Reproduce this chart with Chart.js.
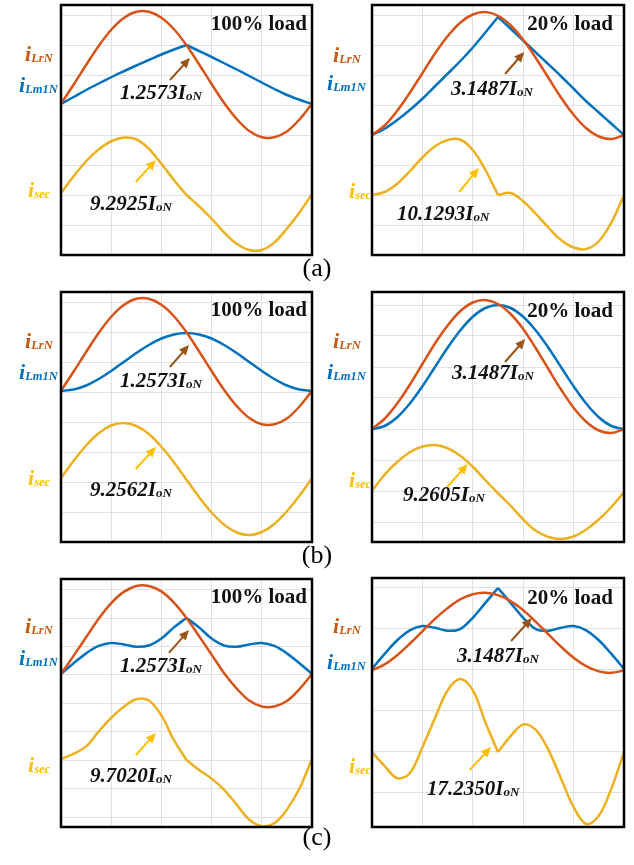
<!DOCTYPE html>
<html>
<head>
<meta charset="utf-8">
<script src="https://cdn.jsdelivr.net/npm/chart.js@4.4.0/dist/chart.umd.min.js"></script>
<style>
  body { margin: 0; background: #fff; }
  #page { position: relative; width: 634px; height: 865px; overflow: hidden; font-family: "Liberation Serif", "Times New Roman", serif; }
  canvas { position: absolute; }
  .txt { position: absolute; white-space: nowrap; line-height: 1; font-weight: bold; font-style: italic; }
  .lbl { font-size: 22px; }
  .lbl span { font-size: 12.5px; position: relative; top: 1px; }
  .val { font-size: 21px; color: #111; }
  .val span { font-size: 13px; position: relative; top: 1px; }
  .load { font-size: 21px; font-style: normal; color: #111; }
  .cap { position: absolute; left: 0; width: 634px; text-align: center; font-size: 26px; line-height: 1; }
</style>
</head>
<body>
<div id="page"></div>
<script>
// time axis, in grid columns
var t = [0, 0.25, 0.5, 0.75, 1, 1.25, 1.5, 1.75, 2, 2.25, 2.5, 2.75, 3, 3.25, 3.5, 3.75, 4, 4.25, 4.5, 4.75, 5];
var xGrid = [0, 1, 2, 3, 4, 5];
var yGridA = [0, 12, 24, 36, 48, 60, 72, 84, 96];
var yGridBR = [8, 20.4, 32.8, 45.2, 57.6, 70, 82.4, 94.8];
var yGridCL = [4, 15.5, 27, 38.4, 49.9, 61.3, 72.8, 84.2, 95.7];
var yGridCR = [13.7, 30.2, 46.7, 63.2, 79.7, 96.2];

// (a) 100% load
var aL_iLrN  = [60.5, 68.1, 76.0, 83.6, 90.1, 94.8, 97.3, 97.3, 94.9, 90.3, 83.9, 76.3, 68.4, 60.8, 54.4, 49.6, 47.1, 47.1, 49.4, 54.2, 60.5];
var aL_iLm1N = [60.4, 63.2, 66.0, 68.6, 71.1, 73.5, 75.8, 78.0, 80.2, 82.2, 84.0, 81.6, 79.2, 76.7, 74.2, 71.6, 69.0, 66.4, 64.0, 62.1, 60.4];
var aL_isec  = [24.8, 31.5, 37.5, 42.2, 45.5, 47.0, 46.3, 42.5, 36.5, 30.0, 24.0, 19.5, 14.5, 9.0, 4.5, 2.0, 2.0, 5.0, 10.5, 17.0, 24.4];
// (a) 20% load
var aR_iLrN  = [48.0, 51.8, 57.7, 64.9, 72.7, 80.6, 87.5, 92.9, 96.2, 97.2, 95.7, 91.9, 86.1, 78.8, 70.9, 63.0, 56.1, 50.7, 47.4, 46.4, 48.0];
var aR_iLm1N = [48.0, 50.5, 54.0, 58.0, 62.5, 67.5, 72.5, 77.5, 83.0, 89.0, 95.2, 90.5, 85.8, 81.0, 76.3, 71.5, 66.5, 61.5, 57.0, 52.5, 48.0];
var aR_isec  = [24.0, 25.2, 28.5, 33.5, 39.0, 43.5, 46.0, 46.2, 42.0, 34.0, 24.0, 24.8, 21.5, 16.5, 11.0, 6.0, 3.0, 2.4, 5.5, 13.0, 24.0];
// (b) 100% load
var bL_iLrN  = [60.5, 68.1, 76.0, 83.6, 90.1, 94.8, 97.3, 97.3, 94.9, 90.3, 83.9, 76.3, 68.4, 60.8, 54.4, 49.6, 47.1, 47.1, 49.4, 54.2, 60.5];
var bL_iLm1N = [60.4, 61.0, 62.6, 65.2, 68.4, 72.0, 75.6, 78.8, 81.4, 83.0, 83.6, 83.0, 81.4, 78.8, 75.6, 72.0, 68.4, 65.2, 62.6, 61.0, 60.4];
var bL_isec  = [25.5, 32.4, 38.6, 43.5, 46.6, 47.6, 46.4, 43.2, 38.1, 31.9, 24.9, 18.0, 11.8, 6.9, 3.8, 2.8, 4.0, 7.2, 12.3, 18.5, 25.5];
// (b) 20% load
var bR_iLrN  = [45.2, 49.3, 55.4, 62.9, 71.2, 79.4, 86.6, 92.3, 95.8, 96.8, 95.2, 91.2, 85.2, 77.5, 69.2, 61.0, 53.7, 48.1, 44.6, 43.6, 45.2];
var bR_iLm1N = [45.2, 46.4, 49.9, 55.4, 62.3, 70.0, 77.7, 84.6, 90.1, 93.6, 94.8, 93.6, 90.1, 84.6, 77.7, 70.0, 62.3, 55.4, 49.9, 46.4, 45.2];
var bR_isec  = [20.5, 26.9, 32.0, 35.9, 38.2, 38.8, 37.5, 34.5, 30.1, 24.7, 19.5, 14.5, 9.0, 4.5, 2.0, 1.2, 2.2, 5.0, 9.0, 14.0, 20.0];
// (c) 100% load
var cL_iLrN  = [61.7, 69.0, 76.5, 84.0, 90.3, 94.8, 97.2, 97.2, 95.0, 90.5, 84.3, 77.0, 69.5, 62.0, 55.8, 51.0, 48.6, 48.6, 50.8, 55.6, 61.7];
var cL_iLm1N = [61.7, 66.0, 70.0, 73.0, 74.2, 73.6, 72.7, 73.2, 76.0, 80.5, 84.3, 80.5, 76.0, 73.2, 72.7, 73.6, 74.2, 73.0, 70.0, 66.0, 61.7];
var cL_isec  = [27.4, 29.5, 32.5, 38.5, 44.0, 48.5, 51.5, 51.0, 45.0, 35.0, 27.0, 23.0, 19.5, 15.0, 9.0, 3.0, 0.3, 1.5, 7.0, 15.5, 27.4];
// (c) 20% load
var cR_iLrN  = [62.9, 65.3, 69.0, 73.6, 78.6, 83.6, 87.9, 91.4, 93.5, 94.1, 93.1, 90.7, 87.1, 82.4, 77.4, 72.4, 68.0, 64.6, 62.5, 61.9, 62.9];
var cR_iLm1N = [63.5, 69.5, 75.0, 79.0, 80.7, 80.0, 78.8, 79.5, 84.0, 90.0, 96.0, 90.0, 84.0, 79.5, 78.8, 80.0, 80.7, 79.0, 75.0, 69.5, 63.5];
var cR_isec  = [30.1, 24.5, 19.6, 21.6, 32.0, 43.8, 54.8, 59.4, 55.0, 42.0, 30.1, 36.5, 41.2, 39.0, 31.0, 19.5, 8.0, 1.2, 4.5, 15.5, 30.1];

var loads = ['100% load', '20% load'];
var peakLabels = ['1.2573', '3.1487', '1.2573', '3.1487', '1.2573', '3.1487'];
var secLabels = ['9.2925', '10.1293', '9.2562', '9.2605', '9.7020', '17.2350'];

var C_LR = '#D95319', C_LM = '#0072BD', C_SEC = '#EDB120';
var PAD = 6;

var panels = [
  { box: [61, 5, 251, 250], grid: yGridA, lr: aL_iLrN, lm: aL_iLm1N, sec: aL_isec, split: true,
    arrows: [[2.17, 70, 2.57, 78.8], [1.49, 29.2, 1.89, 38]], lblX: [25, 19, 28], lblY: [56, 87, 192],
    loadY: 26, pk: [59, 95], sc: [29, 206] },
  { box: [372, 5, 252, 250], grid: yGridA, lr: aR_iLrN, lm: aR_iLm1N, sec: aR_isec, split: true,
    arrows: [[2.64, 72.4, 3.02, 81.2], [1.73, 25.2, 2.12, 34.8]], lblX: [333, 327, 349], lblY: [57, 85, 193],
    loadY: 26, pk: [79, 91], sc: [25, 216] },
  { box: [61, 292, 251, 250], grid: yGridA, lr: bL_iLrN, lm: bL_iLm1N, sec: bL_isec, split: false,
    arrows: [[2.17, 70, 2.55, 78.8], [1.49, 29.2, 1.89, 38]], lblX: [25, 19, 28], lblY: [56, 87, 193],
    loadY: 25, pk: [59, 96], sc: [29, 205] },
  { box: [372, 292, 252, 250], grid: yGridBR, lr: bR_iLrN, lm: bR_iLm1N, sec: bR_isec, split: false,
    arrows: [[2.64, 72, 3.04, 81.2], [1.49, 22, 1.9, 31.2]], lblX: [333, 327, 349], lblY: [56, 87, 195],
    loadY: 26, pk: [80, 88], sc: [31, 210] },
  { box: [61, 579, 251, 248], grid: yGridCL, lr: cL_iLrN, lm: cL_iLm1N, sec: cL_isec, split: true,
    arrows: [[2.15, 70.2, 2.55, 79.4], [1.49, 29, 1.89, 37.9]], lblX: [25, 19, 28], lblY: [54, 86, 193],
    loadY: 25, pk: [59, 94], sc: [29, 204] },
  { box: [372, 578, 252, 249], grid: yGridCR, lr: cR_iLrN, lm: cR_iLm1N, sec: cR_isec, split: true,
    arrows: [[2.76, 74.7, 3.17, 83.9], [1.94, 22.9, 2.36, 32.1]], lblX: [333, 327, 349], lblY: [55, 91, 195],
    loadY: 27, pk: [85, 85], sc: [55, 218] }
];

var framePlugin = {
  id: 'frame',
  afterDatasetsDraw: function (chart, args, opts) {
    var ctx = chart.ctx, a = chart.chartArea, x = chart.scales.x, y = chart.scales.y;
    var colors = ['#9A5418', '#FFC000'];
    (opts.arrows || []).forEach(function (ar, k) {
      var x0 = x.getPixelForValue(ar[0]), y0 = y.getPixelForValue(ar[1]);
      var x1 = x.getPixelForValue(ar[2]), y1 = y.getPixelForValue(ar[3]);
      var ang = Math.atan2(y1 - y0, x1 - x0), c = Math.cos(ang), s = Math.sin(ang);
      ctx.save();
      ctx.strokeStyle = colors[k]; ctx.fillStyle = colors[k]; ctx.lineWidth = 2;
      ctx.beginPath(); ctx.moveTo(x0, y0); ctx.lineTo(x1 - 6 * c, y1 - 6 * s); ctx.stroke();
      ctx.beginPath();
      ctx.moveTo(x1, y1);
      ctx.lineTo(x1 - 10 * c + 4.5 * s, y1 - 10 * s - 4.5 * c);
      ctx.lineTo(x1 - 10 * c - 4.5 * s, y1 - 10 * s + 4.5 * c);
      ctx.closePath(); ctx.fill();
      ctx.restore();
    });
    ctx.save();
    ctx.lineWidth = 2.5; ctx.strokeStyle = '#000';
    ctx.strokeRect(a.left, a.top, a.right - a.left, a.bottom - a.top);
    ctx.restore();
  }
};

function pts(vals, from, to) {
  var out = [];
  for (var i = from; i <= to; i++) out.push({ x: t[i], y: vals[i] });
  return out;
}

function series(vals, color, split) {
  var base = { borderColor: color, borderWidth: 2.5, pointRadius: 0, tension: 0.35, clip: PAD, fill: false };
  if (!split) return [Object.assign({ data: pts(vals, 0, t.length - 1) }, base)];
  return [Object.assign({ data: pts(vals, 0, 10) }, base), Object.assign({ data: pts(vals, 10, t.length - 1) }, base)];
}

function addText(cls, html, left, top, color, right) {
  var d = document.createElement('div');
  d.className = 'txt ' + cls;
  d.innerHTML = html;
  if (right !== undefined) d.style.right = right + 'px'; else d.style.left = left + 'px';
  d.style.top = top + 'px';
  if (color) d.style.color = color;
  page.appendChild(d);
}

var page = document.getElementById('page');

panels.forEach(function (p, idx) {
  var L = p.box[0], T = p.box[1], W = p.box[2], H = p.box[3];
  var cv = document.createElement('canvas');
  cv.width = W + 2 * PAD; cv.height = H + 2 * PAD;
  cv.style.left = (L - PAD) + 'px'; cv.style.top = (T - PAD) + 'px';
  page.appendChild(cv);

  var datasets = [].concat(series(p.lr, C_LR, false), series(p.lm, C_LM, p.split), series(p.sec, C_SEC, p.split));
  var yTicks = p.grid;

  new Chart(cv.getContext('2d'), {
    type: 'line',
    data: { datasets: datasets },
    options: {
      responsive: false,
      animation: false,
      layout: { padding: PAD },
      plugins: { legend: { display: false }, tooltip: { enabled: false }, frame: { arrows: p.arrows } },
      scales: {
        x: {
          type: 'linear', min: 0, max: 5,
          afterBuildTicks: function (s) { s.ticks = xGrid.map(function (v) { return { value: v }; }); },
          ticks: { display: false },
          grid: { color: '#e1e1e1', lineWidth: 1, drawTicks: false },
          border: { display: false }
        },
        y: {
          type: 'linear', min: 0, max: 100,
          afterBuildTicks: function (s) { s.ticks = yTicks.map(function (v) { return { value: v }; }); },
          ticks: { display: false },
          grid: { color: '#e1e1e1', lineWidth: 1, drawTicks: false },
          border: { display: false }
        }
      }
    },
    plugins: [framePlugin]
  });

  // side labels
  addText('lbl', 'i<span>LrN</span>', p.lblX[0], T + p.lblY[0] - 18, '#C55A11');
  addText('lbl', 'i<span>Lm1N</span>', p.lblX[1], T + p.lblY[1] - 18, '#0070C0');
  addText('lbl', 'i<span>sec</span>', p.lblX[2], T + p.lblY[2] - 18, '#FFC000');
  // load text, right aligned in the box
  var rightGap = idx % 2 === 0 ? 5 : 11;
  addText('load', loads[idx % 2], 0, T + p.loadY - 17.6, null, 634 - (L + W - rightGap));
  // peak values
  addText('val', peakLabels[idx] + 'I<span>oN</span>', L + p.pk[0], T + p.pk[1] - 17.6);
  addText('val', secLabels[idx] + 'I<span>oN</span>', L + p.sc[0], T + p.sc[1] - 17.6);
});

['(a)', '(b)', '(c)'].forEach(function (c, k) {
  var d = document.createElement('div');
  d.className = 'cap';
  d.textContent = c;
  d.style.top = ([277, 564, 846][k] - 21.8) + 'px';
  page.appendChild(d);
});
</script>
</body>
</html>
